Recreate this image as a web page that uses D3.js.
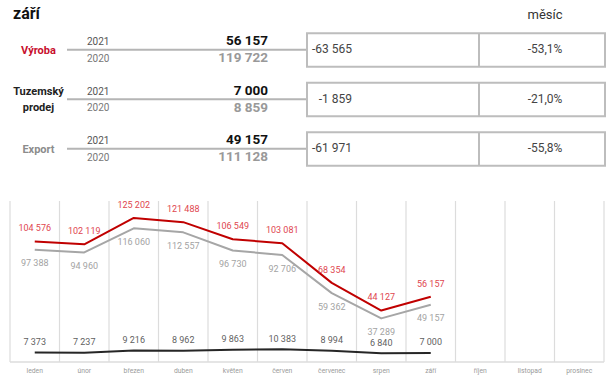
<!DOCTYPE html>
<html><head><meta charset="utf-8">
<script src="https://cdn.jsdelivr.net/npm/d3@7"></script>
<style>
html,body{margin:0;padding:0;background:#fff;}
svg{display:block;font-family:Roboto,"Noto Sans",sans-serif;}
</style></head>
<body>
<svg id="c" width="616" height="383"></svg>
<script>
// ---- data ----
const title = "září";
const colHeader = "měsíc";
const rowLabels = [["Výroba"], ["Tuzemský", "prodej"], ["Export"]];
const years = ["2021", "2020"];
const val2021 = [56157, 7000, 49157];
const val2020 = [119722, 8859, 111128];
const diffs = [-63565, -1859, -61971];
const pcts = [-53.1, -21.0, -55.8];

const months = ["leden","únor","březen","duben","květen","červen","červenec","srpen","září","říjen","listopad","prosinec"];
const vyroba = [104576, 102119, 125202, 121488, 106549, 103081, 68354, 44127, 56157];
const export_ = [97388, 94960, 116060, 112557, 96730, 92706, 59362, 37289, 49157];
const tuzemsky = [7373, 7237, 9216, 8962, 9863, 10383, 8994, 6840, 7000];

// ---- helpers ----
const loc = d3.formatLocale({decimal: ",", thousands: " ", grouping: [3], currency: ["", ""], minus: "-"});
const fInt = loc.format(",d");
const fPct = v => loc.format(".1f")(v) + "%";

const svg = d3.select("#c");

// ---- top table ----
svg.append("text").attr("x", 13).attr("y", 19).attr("font-size", 16).attr("font-weight", 700)
  .attr("fill", "#111").text(title);
svg.append("text").attr("x", 545).attr("y", 19).attr("font-size", 13).attr("text-anchor", "middle")
  .attr("fill", "#333").text(colHeader);

const rowY = d3.scaleBand().domain(d3.range(3)).range([25.5, 174]).paddingInner(0);
const labelColors = ["#c8102e", "#222", "#8c8c8c"];
const boxL = 307, boxM = 479, boxR = 605;

d3.range(3).forEach(i => {
  const cy = rowY(i) + rowY.bandwidth() / 2 - 0.5;
  const g = svg.append("g");
  const lines = rowLabels[i];
  lines.forEach((t, k) => {
    g.append("text").attr("x", 38.5)
      .attr("y", cy + 4 + (k - (lines.length - 1) / 2) * 16)
      .attr("text-anchor", "middle").attr("font-size", 11).attr("font-weight", 700)
      .attr("fill", labelColors[i]).text(t);
  });
  g.append("line").attr("x1", 67).attr("x2", boxL).attr("y1", cy).attr("y2", cy)
    .attr("stroke", "#b5b5b5").attr("stroke-width", 2);
  g.append("text").attr("x", 87).attr("y", cy - 4.5).attr("font-size", 10).attr("fill", "#555").text(years[0]);
  g.append("text").attr("x", 87).attr("y", cy + 12).attr("font-size", 10).attr("fill", "#777").text(years[1]);
  g.append("text").attr("x", 268).attr("y", cy - 4.3).attr("text-anchor", "end").attr("font-size", 13.5)
    .attr("font-weight", 700).attr("fill", "#111").text(fInt(val2021[i]));
  g.append("text").attr("x", 268).attr("y", cy + 12.3).attr("text-anchor", "end").attr("font-size", 13.5)
    .attr("font-weight", 700).attr("fill", "#999").text(fInt(val2020[i]));
  g.append("rect").attr("x", boxL).attr("y", cy - 16.5).attr("width", boxR - boxL).attr("height", 33.5)
    .attr("fill", "none").attr("stroke", "#bdbdbd").attr("stroke-width", 2);
  g.append("line").attr("x1", boxM).attr("x2", boxM).attr("y1", cy - 16.5).attr("y2", cy + 17)
    .attr("stroke", "#bdbdbd").attr("stroke-width", 2);
  g.append("text").attr("x", 352).attr("y", cy + 3.5).attr("text-anchor", "end").attr("font-size", 12)
    .attr("fill", "#444").text(fInt(diffs[i]));
  g.append("text").attr("x", 545).attr("y", cy + 3.5).attr("text-anchor", "middle").attr("font-size", 12)
    .attr("fill", "#444").text(fPct(pcts[i]));
});

// ---- line chart ----
const x = d3.scaleBand().domain(months).range([10, 604]);
const y = d3.scaleLinear().domain([0, 140000]).range([361, 201]);
const cx = m => x(m) + x.bandwidth() / 2;

const grid = svg.append("g");
const bounds = months.map(m => x(m)).concat([x.range()[1]]);
grid.selectAll("line.v").data(bounds).join("line").attr("class", "v")
  .attr("x1", d => d).attr("x2", d => d).attr("y1", 201).attr("y2", 362)
  .attr("stroke", "#dcdcdc").attr("stroke-width", 1.2);
grid.append("line").attr("x1", 10).attr("x2", 604).attr("y1", 362).attr("y2", 362)
  .attr("stroke", "#dcdcdc").attr("stroke-width", 1.5);

const ax = d3.axisBottom(x).tickSize(0).tickPadding(0);
const axG = svg.append("g").attr("transform", "translate(0,368.5)").call(ax);
axG.select(".domain").remove();
axG.selectAll("text").attr("font-size", 6.8).attr("fill", "#9a9a9a").attr("font-family", "Roboto,sans-serif");

const series = [
  {vals: vyroba, stroke: "#c00000", label: "#e0464f", dy: -13.5},
  {vals: export_, stroke: "#a6a6a6", label: "#a3a3a3", dy: 13.3},
  {vals: tuzemsky, stroke: "#262626", label: "#5f5f5f", dy: -10.8}
];
const line = d3.line().x((d, i) => cx(months[i])).y(d => y(d));
series.forEach(s => {
  svg.append("path").datum(s.vals).attr("d", line).attr("fill", "none")
    .attr("stroke", s.stroke).attr("stroke-width", 2).attr("stroke-linejoin", "round");
});
series.forEach(s => {
  svg.append("g").selectAll("text").data(s.vals).join("text")
    .attr("x", (d, i) => cx(months[i])).attr("y", d => y(d) + s.dy + 3.2)
    .attr("text-anchor", "middle").attr("font-size", 9).attr("fill", s.label)
    .text(d => fInt(d));
});
</script>
</body></html>
